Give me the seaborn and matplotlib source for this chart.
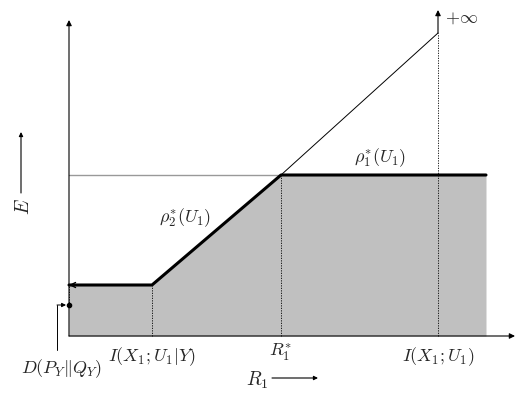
import numpy as np
import pandas as pd
import seaborn as sns
import matplotlib.pyplot as plt

sns.set_style("white")
plt.rcParams['mathtext.fontset'] = 'cm'
plt.rcParams['font.family'] = ['DejaVu Serif']

# key points of the rate-exponent curve (arbitrary units)
r_cond = 8.3      # I(X1;U1|Y)
r_star = 21.2     # R1*
r_mut = 36.9      # I(X1;U1)
r_end = 41.7      # end of shaded region
e_low = 5.1       # level left of I(X1;U1|Y)
e_high = 16.1     # rho1*(U1)
e_D = 3.1         # D(P_Y||Q_Y)
e_top = 30.3      # diagonal tends to +inf

# thick boundary E(R1)
bound = pd.DataFrame({"R1": [0, r_cond, r_star, r_end],
                      "E": [e_low, e_low, e_high, e_high]})
# thin diagonal continuation
diag = pd.DataFrame({"R1": [r_star, r_mut], "E": [e_high, e_top]})
# thin horizontal line
horiz = pd.DataFrame({"R1": [0, r_star], "E": [e_high, e_high]})

fig = plt.figure(figsize=(5.26, 3.94), dpi=100)
ax = fig.add_axes([0, 0, 1, 1])
ax.set_xlim(-6.9, 45.7)
ax.set_ylim(-5.8, 33.6)
ax.axis('off')

ax.fill_between(bound["R1"], 0, bound["E"], color='#c0c0c0', lw=0, zorder=1)
sns.lineplot(data=horiz, x="R1", y="E", color='#999999', lw=1.0, ax=ax, sort=False, zorder=2)
sns.lineplot(data=diag, x="R1", y="E", color='black', lw=0.7, ax=ax, sort=False, zorder=2)
sns.lineplot(data=bound, x="R1", y="E", color='black', lw=2.2, ax=ax, sort=False, zorder=3)
# small arrowhead on the left end of the thick segment
ax.annotate('', xy=(0, e_low), xytext=(1.2, e_low),
            arrowprops=dict(arrowstyle='->', lw=1.0, color='black', shrinkA=0, shrinkB=0,
                            mutation_scale=9), zorder=4)

# axes with arrows
ax.annotate('', xy=(44.6, 0), xytext=(0, 0),
            arrowprops=dict(arrowstyle='-|>', lw=0.8, color='black', shrinkA=0, shrinkB=0,
                            mutation_scale=8))
ax.annotate('', xy=(0, 31.6), xytext=(0, 0),
            arrowprops=dict(arrowstyle='-|>', lw=0.8, color='black', shrinkA=0, shrinkB=0,
                            mutation_scale=8))
ax.annotate('', xy=(r_mut, 32.6), xytext=(r_mut, e_top),
            arrowprops=dict(arrowstyle='-|>', lw=0.8, color='black', shrinkA=0, shrinkB=0,
                            mutation_scale=8))

# dotted guides
ax.plot([r_cond, r_cond], [0, e_low], color='black', lw=0.6, ls=(0, (1.5, 1.5)))
ax.plot([r_star, r_star], [0, e_high], color='black', lw=0.6, ls=(0, (1.5, 1.5)))
ax.plot([r_mut, r_mut], [0, e_top], color='black', lw=0.6, ls=(0, (1.5, 1.5)))
ax.plot([0, 0], [e_D, e_low], color='black', lw=0.6, ls=(0, (1.5, 1.5)))

# D(P_Y||Q_Y) marker
ax.plot([0], [e_D], 'o', color='black', ms=3)
ax.plot([-1.2, -1.2], [-1.4, e_D], color='black', lw=0.7)
ax.annotate('', xy=(-0.3, e_D), xytext=(-1.2, e_D),
            arrowprops=dict(arrowstyle='-|>', lw=0.7, color='black', shrinkA=0, shrinkB=0,
                            mutation_scale=6))

fs = 13
ax.text(r_cond, -0.9, r'$I(X_1;U_1|Y)$', ha='center', va='top', fontsize=fs)
ax.text(r_star, -0.5, r'$R_1^{*}$', ha='center', va='top', fontsize=fs)
ax.text(r_mut, -0.9, r'$I(X_1;U_1)$', ha='center', va='top', fontsize=fs)
ax.text(-0.7, -2.1, r'$D(P_Y\|Q_Y)$', ha='center', va='top', fontsize=fs)
ax.text(r_mut + 0.7, 31.8, r'$+\infty$', ha='left', va='center', fontsize=fs)
ax.text(11.6, 11.8, r'$\rho_2^{*}(U_1)$', ha='center', va='center', fontsize=fs)
ax.text(31.1, 17.8, r'$\rho_1^{*}(U_1)$', ha='center', va='center', fontsize=fs)

# axis labels with arrows
ax.text(18.8, -4.4, r'$R_1$', ha='center', va='center', fontsize=14)
ax.annotate('', xy=(24.9, -4.2), xytext=(20.3, -4.2),
            arrowprops=dict(arrowstyle='-|>', lw=0.8, color='black', shrinkA=0, shrinkB=0,
                            mutation_scale=6))
ax.text(-4.5, 12.9, r'$E$', ha='center', va='center', fontsize=14, rotation=90)
ax.annotate('', xy=(-4.8, 20.4), xytext=(-4.8, 14.3),
            arrowprops=dict(arrowstyle='-|>', lw=0.8, color='black', shrinkA=0, shrinkB=0,
                            mutation_scale=6))

fig.savefig('out.png', dpi=100)
